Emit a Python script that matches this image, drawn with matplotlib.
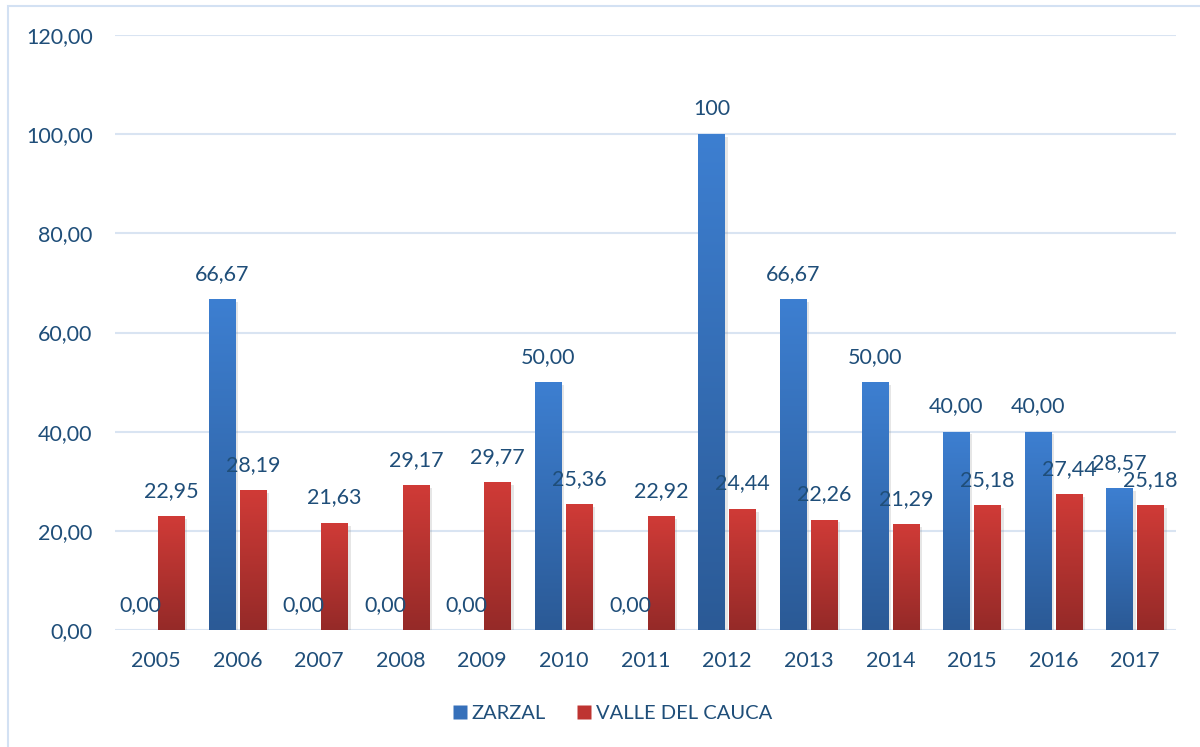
import matplotlib
matplotlib.use("Agg")
import matplotlib.pyplot as plt
import matplotlib.patheffects as pe
from matplotlib.colors import LinearSegmentedColormap
from matplotlib.lines import Line2D
from matplotlib.patches import Rectangle
import numpy as np

years = ["2005", "2006", "2007", "2008", "2009", "2010", "2011",
         "2012", "2013", "2014", "2015", "2016", "2017"]
zarzal = [0.00, 66.67, 0.00, 0.00, 0.00, 50.00, 0.00,
          100.00, 66.67, 50.00, 40.00, 40.00, 28.57]
valle = [22.95, 28.19, 21.63, 29.17, 29.77, 25.36, 22.92,
         24.44, 22.26, 21.29, 25.18, 27.44, 25.18]
zarzal_labels = ["0,00", "66,67", "0,00", "0,00", "0,00", "50,00", "0,00",
                 "100", "66,67", "50,00", "40,00", "40,00", "28,57"]
valle_labels = [f"{v:.2f}".replace(".", ",") for v in valle]
yticks = [0, 20, 40, 60, 80, 100, 120]

TXT = "#1F4E79"
GRID = "#D9E4F2"
FONT = "Lato"

plt.rcParams["font.family"] = [FONT, "DejaVu Sans"]

fig = plt.figure(figsize=(12, 7.47), dpi=100)
ax = fig.add_axes([0.0958, 0.1566, 0.8842, 0.7965])

# borde del grafico (solo visible arriba e izquierda)
fig.patches.append(Rectangle((8 / 1200, -0.1), 1.2, 1 - 6 / 747 + 0.1,
                             transform=fig.transFigure, fill=False,
                             edgecolor="#D3E1F3", linewidth=1.5))

x = np.arange(len(years))
w = 0.325
off = 0.19

blue_cmap = LinearSegmentedColormap.from_list("b", ["#2B5A96", "#3D7FD1"])
red_cmap = LinearSegmentedColormap.from_list("r", ["#952A28", "#D03B37"])
grad = np.linspace(0, 1, 256).reshape(-1, 1)

shadow = [pe.SimplePatchShadow(offset=(2, -2), alpha=0.18, shadow_rgbFace="#777777"), pe.Normal()]

for vals, pos, cmap, color in [(zarzal, x - off, blue_cmap, "#3670BA"),
                               (valle, x + off, red_cmap, "#BE3431")]:
    bars = ax.bar(pos, vals, width=w, color=color, zorder=3, path_effects=shadow)
    for b in bars:
        h = b.get_height()
        if h <= 0:
            continue
        x0 = b.get_x()
        im = ax.imshow(grad, cmap=cmap, aspect="auto", origin="lower",
                       extent=[x0, x0 + b.get_width(), 0, h], zorder=4)
        im.set_clip_path(b)

for xi, v, s in zip(x - off, zarzal, zarzal_labels):
    ax.annotate(s, (xi, v), xytext=(0, 11), textcoords="offset points",
                ha="center", va="bottom", color=TXT, fontsize=15.5, zorder=6)
for xi, v, s in zip(x + off, valle, valle_labels):
    ax.annotate(s, (xi, v), xytext=(0, 11), textcoords="offset points",
                ha="center", va="bottom", color=TXT, fontsize=15.5, zorder=6)

ax.set_xlim(-0.5, len(years) - 0.5)
ax.set_ylim(0, 120)
ax.set_yticks(yticks)
ax.set_yticklabels([f"{t:.2f}".replace(".", ",") for t in yticks])
ax.set_xticks(x)
ax.set_xticklabels(years)
ax.tick_params(axis="both", length=0, labelsize=15.5, labelcolor=TXT)
ax.tick_params(axis="y", pad=16)
ax.tick_params(axis="x", pad=15)
ax.yaxis.grid(True, color=GRID, linewidth=1.5, zorder=0)
ax.set_axisbelow(True)
for sp in ax.spines.values():
    sp.set_visible(False)

handles = [Line2D([], [], marker="s", linestyle="none", markersize=10,
                  markerfacecolor="#3670BA", markeredgecolor="none"),
           Line2D([], [], marker="s", linestyle="none", markersize=10,
                  markerfacecolor="#BE3431", markeredgecolor="none")]
leg = fig.legend(handles, ["ZARZAL", "VALLE DEL CAUCA"], loc="center",
                 bbox_to_anchor=(0.51, 1 - 713 / 747), ncol=2, frameon=False,
                 fontsize=14.5, handletextpad=0.2, columnspacing=1.5,
                 handlelength=0.8)
for t in leg.get_texts():
    t.set_color(TXT)

fig.savefig("out.png", dpi=100)
